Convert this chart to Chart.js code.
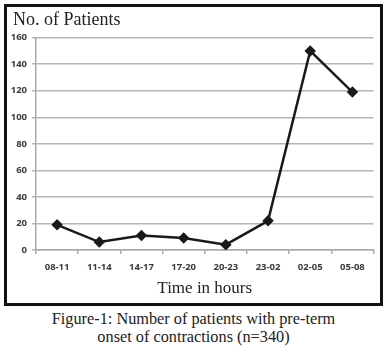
<!DOCTYPE html>
<html>
<head>
<meta charset="utf-8">
<script src="https://cdn.jsdelivr.net/npm/chart.js@4"></script>
<style>
    html, body { margin: 0; padding: 0; background: #fff; }
    body { width: 387px; height: 352px; position: relative; overflow: hidden; }
    .frame {
        position: absolute; left: 4px; top: 4px;
        width: 373px; height: 296px;
        border: 3px solid #111;
    }
    .frame canvas { display: block; }
    .caption {
        position: absolute; left: 0; top: 310px; width: 387px;
        text-align: center;
        font-family: "Liberation Serif", "DejaVu Serif", serif;
        font-size: 16.3px; line-height: 18px; color: #222;
    }
</style>
</head>
<body>
<div class="frame"><canvas id="patientsChart" width="373" height="296"></canvas></div>
<div class="caption">Figure-1: Number of patients with pre-term<br>onset of contractions (n=340)</div>
<script>
// chart data
const timeSlots = ['08-11', '11-14', '14-17', '17-20', '20-23', '23-02', '02-05', '05-08'];
const patientCounts = [19, 6, 11, 9, 4, 22, 150, 119];
const yTicks = [0, 20, 40, 60, 80, 100, 120, 140, 160];

const serif = '"Liberation Serif", "DejaVu Serif", serif';
const tickFont = { family: '"Open Sans", Lato, sans-serif', size: 9.5, weight: 'bold' };

// nudge the top-left title a little to the right, like the original
const titleIndent = {
    id: 'titleIndent',
    afterLayout(chart) {
        if (chart.titleBlock) {
            chart.titleBlock.left += 6;
        }
    }
};

new Chart(document.getElementById('patientsChart'), {
    type: 'line',
    data: {
        labels: timeSlots,
        datasets: [{
            data: patientCounts,
            borderColor: '#1a1a1a',
            backgroundColor: '#1a1a1a',
            borderWidth: 2.5,
            pointStyle: 'rectRot',
            pointRadius: 4,
            pointBackgroundColor: '#1a1a1a',
            tension: 0
        }]
    },
    options: {
        responsive: false,
        animation: false,
        layout: { padding: { left: 0, right: 3, top: 0, bottom: 4 } },
        plugins: {
            legend: { display: false },
            tooltip: { enabled: false },
            title: {
                display: true,
                text: 'No. of Patients',
                align: 'start',
                color: '#222',
                font: { family: serif, size: 18, weight: 'normal', lineHeight: 1.15 },
                padding: { top: 3, bottom: 7 }
            }
        },
        scales: {
            x: {
                offset: true,
                grid: { offset: true, drawOnChartArea: false, drawTicks: true, tickLength: 4, color: '#aaa', lineWidth: 1.5 },
                border: { color: '#aaa', width: 1.5 },
                ticks: { color: '#3a3a3a', font: tickFont, padding: 8, maxRotation: 0 },
                title: {
                    display: true,
                    text: 'Time in hours',
                    color: '#222',
                    font: { family: serif, size: 17, weight: 'normal' },
                    padding: { top: 2, bottom: 0 }
                },
                afterFit: (scale) => { scale.height = 49; }
            },
            y: {
                min: 0,
                max: 160,
                afterBuildTicks: (scale) => { scale.ticks = yTicks.map(v => ({ value: v })); },
                grid: { color: '#b5b5b5', lineWidth: 1.5, tickLength: 4 },
                border: { color: '#aaa', width: 1.5 },
                ticks: { color: '#3a3a3a', font: tickFont, padding: 5 },
                afterFit: (scale) => { scale.width = 29; }
            }
        }
    },
    plugins: [titleIndent]
});
</script>
</body>
</html>
